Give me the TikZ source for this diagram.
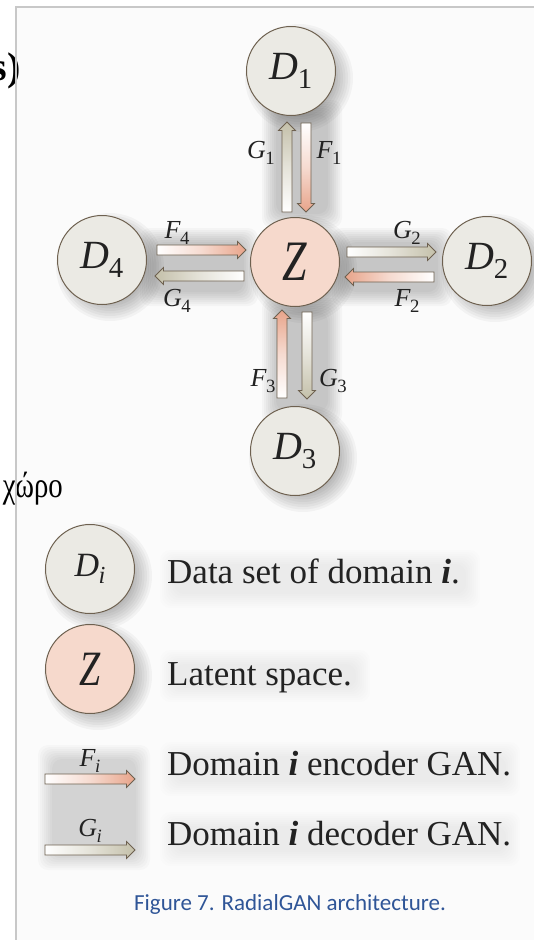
\documentclass[tikz,border=0pt]{standalone}
\usepackage{fontspec}
\setmainfont{Liberation Serif}
\newfontfamily\serifx{Liberation Serif}
\newfontfamily\capfont{Carlito}
\usetikzlibrary{calc}
\definecolor{edge}{HTML}{6E6150}
\definecolor{dfill}{HTML}{EBEAE4}
\definecolor{zfill}{HTML}{F6D9CC}
\definecolor{fhead}{HTML}{E8A48A}
\definecolor{ghead}{HTML}{C4C0AA}
\definecolor{framec}{HTML}{C8C8C8}
\definecolor{capblue}{HTML}{2F5597}
\definecolor{ink}{HTML}{222222}
% italic letter with subscript
\newcommand\lbl[2]{{\itshape #1}\kern-0.02em\raisebox{-0.22em}{\scalebox{0.72}{#2}}}
% block arrow: #1 style, #2 tail, #3 tip, #4 dx, #5 dy (unit direction)
\newcommand\blockarr[5]{%
  \path[#1] ($(#2)+({-5*(#5)},{5*(#4)})$)
    -- ($(#3)+({-8.5*(#4)-5*(#5)},{-8.5*(#5)+5*(#4)})$)
    -- ($(#3)+({-8.5*(#4)-8.5*(#5)},{-8.5*(#5)+8.5*(#4)})$)
    -- (#3)
    -- ($(#3)+({-8.5*(#4)+8.5*(#5)},{-8.5*(#5)-8.5*(#4)})$)
    -- ($(#3)+({-8.5*(#4)+5*(#5)},{-8.5*(#5)-5*(#4)})$)
    -- ($(#2)+({5*(#5)},{-5*(#4)})$) -- cycle;}
\newcommand\softrect[5]{\foreach \k in {0,...,7}{\fill[black,opacity=#5,rounded corners=10pt] ({#1+2*\k},{#2+2*\k}) rectangle ({#3-2*\k},{#4-2*\k});}}
\newcommand\softcirc[3]{\foreach \k in {0,...,8}{\fill[black,opacity=0.035] (#1,#2) circle ({#3-2.5*\k});}}
\tikzset{
  circ/.style={circle, draw=edge, line width=1pt, minimum size=89pt, inner sep=0pt, text=ink},
  dnode/.style={circ, fill=dfill, font=\fontsize{40}{44}\selectfont},
  znode/.style={circ, fill=zfill, font=\fontsize{44}{48}\selectfont},
  arrline/.style={draw=edge, line width=0.8pt},
  lab/.style={text=ink, inner sep=0pt, font=\fontsize{26}{30}\selectfont},
  legtext/.style={text=ink, inner sep=0pt, anchor=base west, font=\fontsize{35}{40}\selectfont},
}
\begin{document}
\begin{tikzpicture}[x=1pt,y=-1pt]
\useasboundingbox (0,0) rectangle (534,940);
\fill[white] (0,0) rectangle (534,940);
\fill[gray!3] (16,7) rectangle (534,940);
% fragments of the slide behind
\node[anchor=base east, inner sep=0pt, font=\serifx\bfseries\fontsize{40}{40}\selectfont] (frag1) at (21,80) {s)};
\node[anchor=base east, inner sep=0pt, font=\serifx\fontsize{36}{36}\selectfont] (frag2) at (63,497) {\scalebox{0.8}[1]{χώρο}};
\draw[framec, line width=1.2pt] (16,940) -- (16,7) -- (534,7);
% soft shadows
\softrect{140}{228}{258}{306}{0.028}
\softrect{332}{228}{452}{306}{0.028}
\softrect{262}{100}{342}{228}{0.028}
\softrect{262}{298}{342}{425}{0.028}
\softcirc{299}{78}{54}
\softcirc{303}{269}{54}
\softcirc{110}{267}{54}
\softcirc{495}{268}{54}
\softcirc{303}{458}{54}
\softcirc{98}{576}{54}
\softcirc{98}{676}{54}
\softrect{38}{745}{150}{870}{0.02}
\softrect{160}{550}{480}{608}{0.008}
\softrect{160}{650}{370}{702}{0.008}
\softrect{160}{742}{520}{796}{0.008}
\softrect{160}{812}{520}{866}{0.008}
% circles
\node[dnode] (D1) at (291,71) {\lbl{D}{1}};
\node[znode] (Z) at (295,262) {\scalebox{1}[1.3]{\itshape Z}};
\node[dnode] (D4) at (102,260) {\lbl{D}{4}};
\node[dnode] (D2) at (487,261) {\lbl{D}{2}};
\node[dnode] (D3) at (295,451) {\lbl{D}{3}};
% arrow end points
\coordinate (g1a) at (287,212); \coordinate (g1b) at (287,122);
\coordinate (f1a) at (306,123); \coordinate (f1b) at (306,212);
\coordinate (f4a) at (157,250); \coordinate (f4b) at (246,250);
\coordinate (g4a) at (244,276); \coordinate (g4b) at (155,276);
\coordinate (g2a) at (347,252); \coordinate (g2b) at (436,252);
\coordinate (f2a) at (434,277); \coordinate (f2b) at (345,277);
\coordinate (f3a) at (282,398); \coordinate (f3b) at (282,310);
\coordinate (g3a) at (307,312); \coordinate (g3b) at (307,399);
\blockarr{arrline, bottom color=white, top color=ghead, middle color=ghead!45!white}{g1a}{g1b}{0}{-1}
\blockarr{arrline, top color=white, bottom color=fhead, middle color=fhead!40!white}{f1a}{f1b}{0}{1}
\blockarr{arrline, left color=white, right color=fhead, middle color=fhead!40!white}{f4a}{f4b}{1}{0}
\blockarr{arrline, right color=white, left color=ghead, middle color=ghead!45!white}{g4a}{g4b}{-1}{0}
\blockarr{arrline, left color=white, right color=ghead, middle color=ghead!45!white}{g2a}{g2b}{1}{0}
\blockarr{arrline, right color=white, left color=fhead, middle color=fhead!40!white}{f2a}{f2b}{-1}{0}
\blockarr{arrline, bottom color=white, top color=fhead, middle color=fhead!40!white}{f3a}{f3b}{0}{-1}
\blockarr{arrline, top color=white, bottom color=ghead, middle color=ghead!45!white}{g3a}{g3b}{0}{1}
% arrow labels
\node[lab] (lG1) at (261,153) {\lbl{G}{1}};
\node[lab] (lF1) at (329,153) {\lbl{F}{1}};
\node[lab] (lF4) at (177,233) {\lbl{F}{4}};
\node[lab] (lG4) at (177,301) {\lbl{G}{4}};
\node[lab] (lG2) at (407,233) {\lbl{G}{2}};
\node[lab] (lF2) at (407,301) {\lbl{F}{2}};
\node[lab] (lF3) at (263,381) {\lbl{F}{3}};
\node[lab] (lG3) at (333,381) {\lbl{G}{3}};
% legend
\node[circ, fill=dfill, font=\fontsize{34}{38}\selectfont] (LD) at (90,569) {\lbl{D}{\itshape i}};
\node[circ, fill=zfill, font=\fontsize{38}{42}\selectfont] (LZ) at (90,669) {\scalebox{1}[1.3]{\itshape Z}};
\node[legtext] (tD) at (167,583) {Data set of domain \textbf{\textit{i}}.};
\node[legtext] (tZ) at (167,685) {Latent space.};
\coordinate (lfa) at (45,779); \coordinate (lfb) at (135,779);
\coordinate (lga) at (45,850); \coordinate (lgb) at (135,850);
\blockarr{arrline, left color=white, right color=fhead, middle color=fhead!40!white}{lfa}{lfb}{1}{0}
\blockarr{arrline, left color=white, right color=ghead, middle color=ghead!45!white}{lga}{lgb}{1}{0}
\node[lab] (lFi) at (90,761) {\lbl{F}{\itshape i}};
\node[lab] (lGi) at (90,831) {\lbl{G}{\itshape i}};
\node[legtext] (tF) at (167,775) {Domain \textbf{\textit{i}} encoder GAN.};
\node[legtext] (tG) at (167,845) {Domain \textbf{\textit{i}} decoder GAN.};
\node[anchor=base, inner sep=0pt, text=capblue, font=\capfont\fontsize{23}{26}\selectfont] (cap) at (290,910) {Figure 7. RadialGAN architecture.};
\end{tikzpicture}
\end{document}
